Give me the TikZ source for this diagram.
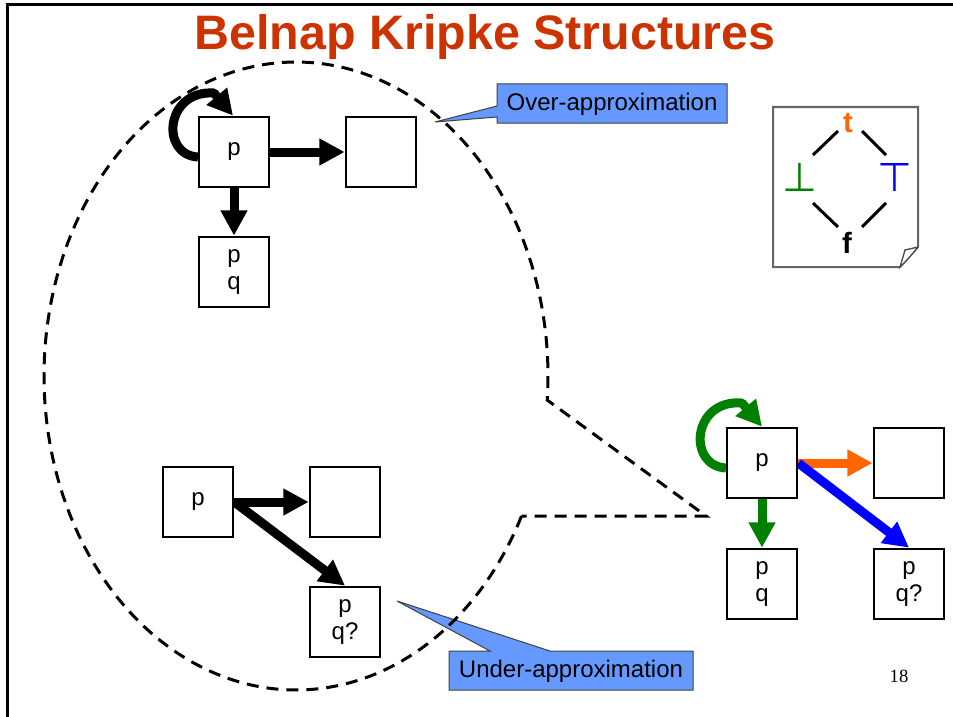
\documentclass[tikz,border=0pt]{standalone}
\usepackage{fontspec}
\setmainfont{Liberation Sans}
\newfontfamily\serifface{Liberation Serif}
\newfontfamily\symface{DejaVu Sans}
\usetikzlibrary{arrows.meta,calc}
\definecolor{titlered}{RGB}{204,51,0}
\definecolor{calloutblue}{RGB}{102,153,255}
\definecolor{bgreen}{RGB}{0,128,0}
\definecolor{borange}{RGB}{255,102,0}
\definecolor{bblue}{RGB}{0,0,255}
\pgfdeclarelayer{background}
\pgfsetlayers{background,main}

\begin{document}
\begin{tikzpicture}[x=0.75pt,y=-0.75pt,
  state/.style={draw=black, line width=1.5pt, fill=white,
    minimum width=53pt, minimum height=53pt, inner sep=0pt, align=center,
    font=\fontsize{18}{20.5}\selectfont},
  trans/.style={line width=6.75pt, line join=round,
    -{Triangle[length=19pt,width=19pt]}},
  callout/.style={draw=black!75, line width=0.75pt, fill=calloutblue},
  calltext/.style={font=\fontsize{18}{18}\selectfont, inner sep=0pt},
  lat/.style={line width=2.25pt},
  latval/.style={inner sep=0pt, font=\fontsize{22}{22}\selectfont\bfseries},
  latsym/.style={inner sep=0pt, font=\symface\fontsize{30}{30}\selectfont},
]
\useasboundingbox (0,0) rectangle (953,717);

% slide frame
\draw[line width=2.25pt] (7,717) -- (7,4.5) -- (953,4.5);

% title
\node[anchor=base, text=titlered, inner sep=0pt,
      font=\fontsize{36.3}{40}\selectfont\bfseries] (title) at (485,50)
  {Belnap Kripke Structures};

% callouts
\draw[callout] (497,84) -- (727,84) -- (727,123) -- (497,123) -- (497,117)
  -- (435,122) -- (497,106) -- cycle;
\node[calltext] (over) at (612,104) {Over-approximation};
\draw[callout] (449,651) -- (490,651) -- (397,601) -- (550,651) -- (693,651)
  -- (693,690) -- (449,690) -- cycle;
\node[calltext] (under) at (571,671) {Under-approximation};

% dashed balloon around the two approximations
\draw[line width=2.25pt, dash pattern=on 9pt off 6pt]
  plot[domain=26.5:364.4, samples=240] ({296+252*cos(\x)},{376+314*sin(\x)})
  -- (706,516) -- cycle;

% over-approximation
\node[state] (a1) at (234,152) {p};
\node[state] (a2) at (381,152) {};
\node[state] (a3) at (234,272) {p\\q};

% under-approximation
\node[state] (b1) at (198,502) {p};
\node[state] (b2) at (345,502) {};
\node[state] (b3) at (345,622) {p\\q?};

% Belnap structure
\node[state] (c1) at (762,463) {p};
\node[state] (c2) at (909,463) {};
\node[state] (c3) at (762,584) {p\\q};
\node[state] (c4) at (909,584) {p\\q?};

\begin{pgfonlayer}{background}
  % self-loops: round arc, then a short straight run carrying the head
  \draw[trans] ($(a1)+(-36,5)$) .. controls ($(a1)+(-74,3)$)
    and ($(a1)+(-69,-62)$) .. ($(a1)+(-20,-59)$) -- ($(a1.north)+(-1,0)$);
  \draw[trans] (a1) -- (a2);
  \draw[trans] (a1) -- (a3);

  \draw[trans] (b1.east) -- (b2);
  \draw[trans] (b1.east) -- (b3.north);

  \draw[trans, bgreen] ($(c1)+(-36,5)$) .. controls ($(c1)+(-75,3)$)
    and ($(c1)+(-70,-64)$) .. ($(c1)+(-20,-60)$) -- ($(c1.north)+(0,0)$);
  \draw[trans, bgreen] (c1) -- (c3);
  \draw[trans, borange] (c1) -- (c2);
  \draw[trans, bblue] (c1.east) -- (c4.north);
\end{pgfonlayer}

% truth-value lattice on a note
\draw[draw=black!60, line width=1.5pt, fill=white]
  (773,107) -- (918,107) -- (918,247) -- (900,267) -- (773,267) -- cycle;
\draw[black!70, line width=1pt, fill=white]
  (918,247) .. controls (911,248) .. (905,250) -- (900,267)
  .. controls (908,259) .. (918,247);

\node[latval, text=borange] (lt) at (848,123) {t};
\node[latsym, text=bgreen] (lbot) at (800,177) {⊥};
\node[latsym, text=bblue] (ltop) at (895,177) {⊤};
\node[latval] (lf) at (847,243) {f};

\coordinate (e1a) at (813,155); \coordinate (e1b) at (838,131);
\coordinate (e2a) at (862,131); \coordinate (e2b) at (886,155);
\coordinate (e3a) at (813,203); \coordinate (e3b) at (838,227);
\coordinate (e4a) at (886,203); \coordinate (e4b) at (862,227);
\draw[lat] (e1a) -- (e1b);
\draw[lat] (e2a) -- (e2b);
\draw[lat] (e3a) -- (e3b);
\draw[lat] (e4a) -- (e4b);

% slide number
\node[font=\serifface\fontsize{14}{14}\selectfont] (pg) at (899,676) {18};
\end{tikzpicture}
\end{document}
